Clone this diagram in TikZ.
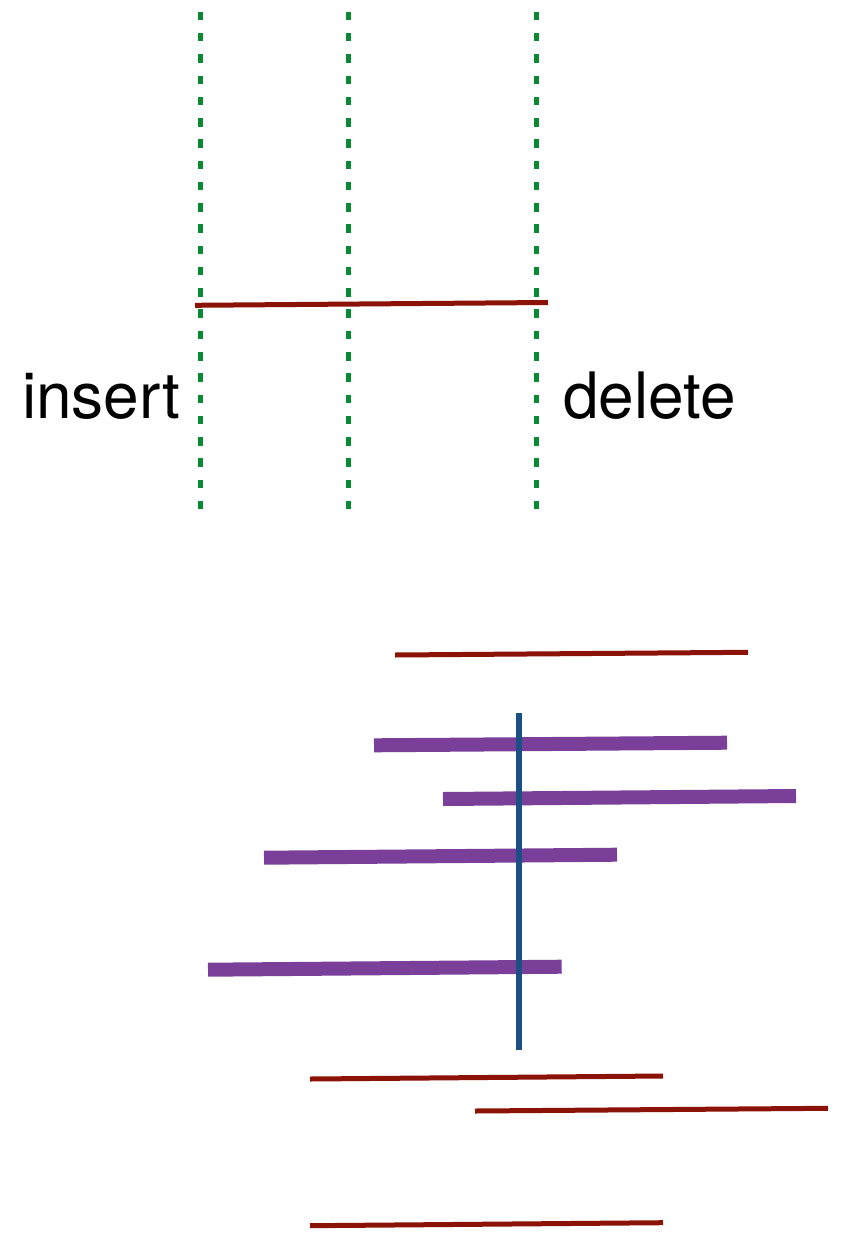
\documentclass[tikz,border=0pt]{standalone}
\usepackage{fontspec}
\setmainfont{TeX Gyre Heros}
\definecolor{gridgreen}{RGB}{8,138,52}
\definecolor{darkred}{RGB}{139,18,6}
\definecolor{violet}{RGB}{122,63,152}
\definecolor{navy}{RGB}{26,80,134}
\begin{document}
\begin{tikzpicture}[x=1pt,y=-1pt,
  guide/.style={draw=gridgreen,line width=5pt,dash pattern=on 8.5pt off 12.77pt},
  thinbar/.style={draw=darkred,line width=5pt},
  thickbar/.style={draw=violet,line width=14pt},
  probe/.style={draw=navy,line width=5.5pt},
  lbl/.style={inner sep=0pt,anchor=base west,font=\fontsize{64}{70}\selectfont}]
\useasboundingbox (0,0) rectangle (842,1250);
% green dotted guides
\draw[guide] (200.5,11.7) -- (200.5,512);
\draw[guide] (348,11.7) -- (348,512);
\draw[guide] (536.5,11.7) -- (536.5,512);
% top red line
\draw[thinbar] (195,305.3) -- (548,302.5);
% labels
\node[lbl] (ins) at (22,418) {insert};
\node[lbl] (del) at (563,418) {delete};
% lower red line
\draw[thinbar] (395,655) -- (748,652.3);
% purple bars
\draw[thickbar] (374,745.3) -- (727,742.7);
\draw[thickbar] (443,799) -- (796,796);
\draw[thickbar] (264,857.7) -- (617,854.7);
\draw[thickbar] (208,969.7) -- (561.7,966.7);
% blue vertical
\draw[probe] (519,713) -- (519,1050);
% bottom red lines
\draw[thinbar] (310,1079) -- (663,1076);
\draw[thinbar] (475,1111) -- (828,1108.3);
\draw[thinbar] (310,1225.7) -- (663,1222.7);
\end{tikzpicture}
\end{document}
